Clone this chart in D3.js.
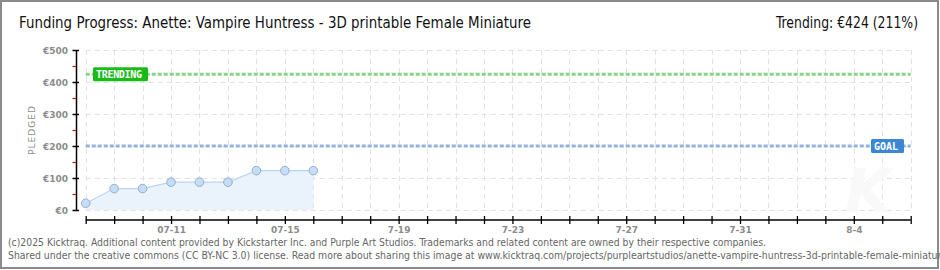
<!DOCTYPE html>
<html>
<head>
<meta charset="utf-8">
<script src="https://cdn.jsdelivr.net/npm/d3@7"></script>
<style>
  html, body { margin: 0; padding: 0; background: #fff; }
  svg { display: block; }
</style>
</head>
<body>
<svg id="chart" width="940" height="270"></svg>
<script>
// Daily pledged totals (EUR), one per campaign day starting 2025-07-08
const days = ["2025-07-08","2025-07-09","2025-07-10","2025-07-11","2025-07-12","2025-07-13","2025-07-14","2025-07-15","2025-07-16"];
const pledged = [21, 67, 67, 87, 87, 87, 123, 123, 123];

// Campaign span shown on the x axis
const axisStart = "2025-07-08";
const axisEnd = "2025-08-06";
const labelledDays = ["2025-07-11","2025-07-15","2025-07-19","2025-07-23","2025-07-27","2025-07-31","2025-08-04"];
const labelText = ["07-11","07-15","7-19","7-23","7-27","7-31","8-4"];

// Y axis
const yTicks = [0, 100, 200, 300, 400, 500];
const yMinorTicks = [50, 150, 250, 350, 450];
const yTickLabels = ["€0","€100","€200","€300","€400","€500"];

const goal = 200;
const trending = 424;
const trendingPct = 211;

const title = "Funding Progress: Anette: Vampire Huntress - 3D printable Female Miniature";
const footer1 = "(c)2025 Kicktraq. Additional content provided by Kickstarter Inc. and Purple Art Studios. Trademarks and related content are owned by their respective companies.";
const footer2 = "Shared under the creative commons (CC BY-NC 3.0) license. Read more about sharing this image at www.kicktraq.com/projects/purpleartstudios/anette-vampire-huntress-3d-printable-female-miniature/";

const parse = d3.utcParse("%Y-%m-%d");
const svg = d3.select("#chart");

// Frame
svg.append("rect").attr("x", 1).attr("y", 1).attr("width", 937).attr("height", 267)
  .attr("fill", "#fff").attr("stroke", "#8a8a8a").attr("stroke-width", 2);

const x = d3.scaleUtc().domain([parse(axisStart), parse(axisEnd)]).range([85.7, 910.7]);
const y = d3.scaleLinear().domain([0, 500]).range([210, 50]);

const allDays = d3.utcDay.range(parse(axisStart), d3.utcDay.offset(parse(axisEnd), 1));

// Grid
const grid = svg.append("g").attr("stroke", "#e2e2e2").attr("stroke-dasharray", "5,4").attr("stroke-width", 1);
grid.selectAll("line.v").data(allDays).join("line")
  .attr("x1", d => Math.round(x(d)) + 0.5).attr("x2", d => Math.round(x(d)) + 0.5)
  .attr("y1", y(500)).attr("y2", y(0));
grid.selectAll("line.h").data(yTicks).join("line")
  .attr("x1", x(parse(axisStart))).attr("x2", x(parse(axisEnd)))
  .attr("y1", d => Math.round(y(d)) + 0.5).attr("y2", d => Math.round(y(d)) + 0.5);

// Watermark
svg.append("text").attr("x", 868).attr("y", 212).attr("text-anchor", "middle")
  .attr("font-family", "DejaVu Sans").attr("font-weight", "bold").attr("font-style", "italic")
  .attr("font-size", 60).attr("fill", "#f9f9f9").text("K");

// Area + line
const pts = days.map((d, i) => ({ date: parse(d), v: pledged[i] }));
svg.append("path").datum(pts)
  .attr("d", d3.area().x(d => x(d.date)).y0(y(0)).y1(d => y(d.v)))
  .attr("fill", "#eaf3fc");
svg.append("path").datum(pts)
  .attr("d", d3.line().x(d => x(d.date)).y(d => y(d.v)))
  .attr("fill", "none").attr("stroke", "#b9d5f2").attr("stroke-width", 1.2);

// Trending and goal lines
function refLine(val, color) {
  svg.append("line")
    .attr("x1", x(parse(axisStart))).attr("x2", x(parse(axisEnd)))
    .attr("y1", y(val)).attr("y2", y(val))
    .attr("stroke", color).attr("stroke-width", 3).attr("stroke-dasharray", "4,2");
}
refLine(trending, "#86d486");
refLine(goal, "#93b3d9");

// Points
svg.append("g").selectAll("circle").data(pts).join("circle")
  .attr("cx", d => x(d.date)).attr("cy", d => y(d.v)).attr("r", 4.3)
  .attr("fill", "#c6ddf6").attr("stroke", "#93aecf").attr("stroke-width", 1);

// Badges
function badge(bx, val, w, fill, label) {
  const cy = y(val);
  svg.append("rect").attr("x", bx).attr("y", cy - 7).attr("width", w).attr("height", 14)
    .attr("rx", 1.5).attr("fill", fill);
  svg.append("text").attr("x", bx + 3).attr("y", cy + 3.5)
    .attr("font-family", "DejaVu Sans Mono").attr("font-size", 10).attr("font-weight", "bold")
    .attr("fill", "#fff").attr("textLength", w - 9).text(label);
}
badge(93, trending, 55, "#1aba1a", "TRENDING");
badge(871, goal, 33, "#3b87d5", "GOAL");

// Y axis
const ya = svg.append("g");
ya.append("line").attr("x1", 76.5).attr("x2", 76.5).attr("y1", y(500)).attr("y2", y(0))
  .attr("stroke", "#000").attr("stroke-width", 1.5);
ya.selectAll("line.maj").data(yTicks).join("line")
  .attr("x1", 72.5).attr("x2", 79).attr("y1", d => Math.round(y(d)) + 0.5).attr("y2", d => Math.round(y(d)) + 0.5)
  .attr("stroke", "#000").attr("stroke-width", 1.5);
ya.selectAll("line.min").data(yMinorTicks).join("line")
  .attr("x1", 72.5).attr("x2", 76).attr("y1", d => Math.round(y(d)) + 0.5).attr("y2", d => Math.round(y(d)) + 0.5)
  .attr("stroke", "#e00000").attr("stroke-width", 1.2);
ya.selectAll("text").data(yTicks).join("text")
  .attr("x", 68).attr("y", d => y(d) + 3.5).attr("text-anchor", "end")
  .attr("font-family", "DejaVu Sans").attr("font-size", 9).attr("font-weight", "bold")
  .attr("fill", "#8c8c8c").text((d, i) => yTickLabels[i]);
svg.append("text").attr("transform", "translate(35,130) rotate(-90)").attr("text-anchor", "middle")
  .attr("font-family", "DejaVu Sans").attr("font-size", 9).attr("fill", "#8c8c8c")
  .attr("letter-spacing", 1).text("PLEDGED");

// X axis
const xAxis = d3.axisBottom(x).tickValues(allDays).tickSize(4).tickSizeOuter(0)
  .tickFormat(d => {
    const k = labelledDays.indexOf(d3.utcFormat("%Y-%m-%d")(d));
    return k >= 0 ? labelText[k] : "";
  });
const xa = svg.append("g").attr("transform", "translate(0,220)").call(xAxis);
xa.select(".domain").attr("stroke", "#000").attr("stroke-width", 1.5).attr("d", `M${x(parse(axisStart))},0H${x(parse(axisEnd))}`);
xa.selectAll(".tick line").attr("y1", -4).attr("y2", 4).attr("stroke", "#000").attr("stroke-width", 1.3);
xa.selectAll(".tick text").attr("y", 7).attr("font-family", "DejaVu Sans").attr("font-size", 9)
  .attr("font-weight", "bold").attr("fill", "#8c8c8c");

// Title and trending summary
svg.append("text").attr("x", 19).attr("y", 28)
  .attr("font-family", "DejaVu Sans Condensed, DejaVu Sans").attr("font-size", 15)
  .attr("textLength", 512).attr("lengthAdjust", "spacingAndGlyphs")
  .attr("fill", "#111").text(title);
svg.append("text").attr("x", 918).attr("y", 28).attr("text-anchor", "end")
  .attr("font-family", "DejaVu Sans Condensed, DejaVu Sans").attr("font-size", 15)
  .attr("textLength", 142).attr("lengthAdjust", "spacingAndGlyphs")
  .attr("fill", "#111").text(`Trending: €${trending} (${trendingPct}%)`);

// Footer
svg.append("text").attr("x", 8).attr("y", 246)
  .attr("font-family", "DejaVu Sans Condensed, DejaVu Sans").attr("font-size", 10)
  .attr("textLength", 758).attr("lengthAdjust", "spacingAndGlyphs")
  .attr("fill", "#666").text(footer1);
svg.append("text").attr("x", 8).attr("y", 259)
  .attr("font-family", "DejaVu Sans Condensed, DejaVu Sans").attr("font-size", 10)
  .attr("textLength", 942).attr("lengthAdjust", "spacingAndGlyphs")
  .attr("fill", "#666").text(footer2);
</script>
</body>
</html>
